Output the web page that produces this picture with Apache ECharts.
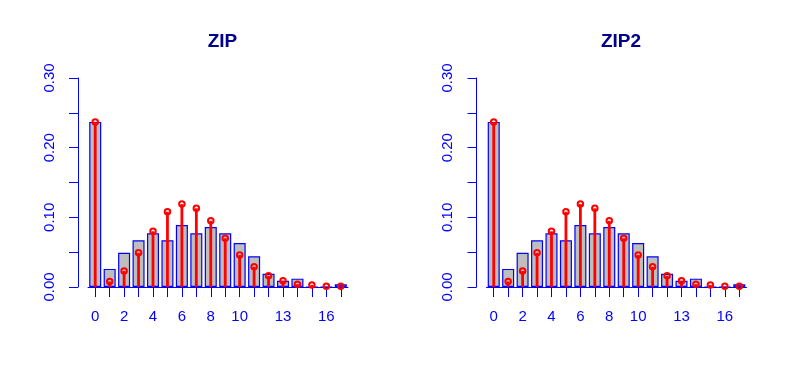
<!DOCTYPE html>
<html><head><meta charset="utf-8">
<script src="https://cdn.jsdelivr.net/npm/echarts@6/dist/echarts.min.js"></script>
<style>html,body{margin:0;padding:0;background:#fff}#c{width:797px;height:385px}</style>
</head><body><div id="c"></div>
<script>
var categories = ["0","1","2","3","4","5","6","7","8","9","10","11","12","13","14","15","16","17"];
var shownLabels = ["0","2","4","6","8","10","13","16"];
var titles = ["ZIP", "ZIP2"];
var observed = [0.237, 0.026, 0.049, 0.067, 0.077, 0.067, 0.089, 0.077, 0.086, 0.077, 0.063, 0.044, 0.019, 0.009, 0.012, 0, 0, 0.004];
var fittedZIP = [0.237, 0.008, 0.023, 0.049, 0.080, 0.108, 0.119, 0.113, 0.095, 0.070, 0.046, 0.029, 0.016, 0.009, 0.004, 0.003, 0.001, 0.001];
var fittedZIP2 = [0.237, 0.008, 0.023, 0.049, 0.080, 0.108, 0.119, 0.113, 0.095, 0.070, 0.046, 0.029, 0.016, 0.009, 0.004, 0.003, 0.001, 0.001];
var yTicks = [0, 0.05, 0.10, 0.15, 0.20, 0.25, 0.30];
var yLabelled = ["0.00", "0.10", "0.20", "0.30"];

var chart = echarts.init(document.getElementById('c'), null, {renderer: 'canvas'});
var FONT = 'Liberation Sans, Arial, sans-serif';
var lefts = [88, 486.5];
var centers = [217.5, 616];
var fits = [fittedZIP, fittedZIP2];

var grids = [], xAxes = [], yAxes = [], series = [], title = [];
for (var p = 0; p < 2; p++) {
  grids.push({left: lefts[p], width: 260, top: 78, height: 209, containLabel: false});
  title.push({text: titles[p], left: centers[p], top: 27, textAlign: 'center',
    textStyle: {fontFamily: FONT, fontSize: 19, fontWeight: 'bold', color: '#00008B'}});
  xAxes.push({type: 'category', gridIndex: p, data: categories, boundaryGap: true,
    axisLine: {show: true, lineStyle: {color: '#0000FF', width: 1}},
    axisTick: {show: true, alignWithLabel: true, interval: 0, length: 10, lineStyle: {color: '#0000FF', width: 1}},
    axisLabel: {interval: 0, margin: 22, color: '#0000FF', fontFamily: FONT, fontSize: 15,
      formatter: function (v) { return shownLabels.indexOf(v) >= 0 ? v : ''; }},
    splitLine: {show: false}});
  yAxes.push({type: 'value', gridIndex: p, min: yTicks[0], max: yTicks[yTicks.length - 1], interval: 0.05,
    offset: 10,
    axisLine: {show: true, lineStyle: {color: '#0000FF', width: 1}},
    axisTick: {show: true, length: 9, lineStyle: {color: '#0000FF', width: 1}},
    axisLabel: {rotate: 90, margin: 21, color: '#0000FF', fontFamily: FONT, fontSize: 15,
      formatter: function (v) { var s = v.toFixed(2); return yLabelled.indexOf(s) >= 0 ? s : ''; }},
    splitLine: {show: false}});
  series.push({type: 'bar', xAxisIndex: p, yAxisIndex: p, data: observed, barWidth: '83.3%',
    itemStyle: {color: '#BEBEBE', borderColor: '#0000FF', borderWidth: 1.2}, z: 2, silent: true});
  series.push({type: 'custom', xAxisIndex: p, yAxisIndex: p, z: 3, silent: true,
    data: fits[p].map(function (v, i) { return [i, v]; }),
    renderItem: function (params, api) {
      var a = api.coord([api.value(0), 0]);
      var b = api.coord([api.value(0), api.value(1)]);
      return {type: 'line', shape: {x1: a[0], y1: a[1], x2: b[0], y2: b[1]},
        style: {stroke: '#FF0000', lineWidth: 2.8}};
    }});
  series.push({type: 'scatter', xAxisIndex: p, yAxisIndex: p, z: 4, silent: true,
    data: fits[p].map(function (v, i) { return [i, v]; }),
    symbol: 'circle', symbolSize: 5.5,
    itemStyle: {color: 'rgba(0,0,0,0)', borderColor: '#FF0000', borderWidth: 2, opacity: 1}});
}
chart.setOption({animation: false, backgroundColor: '#ffffff', title: title, grid: grids,
  xAxis: xAxes, yAxis: yAxes, series: series});
</script></body></html>
